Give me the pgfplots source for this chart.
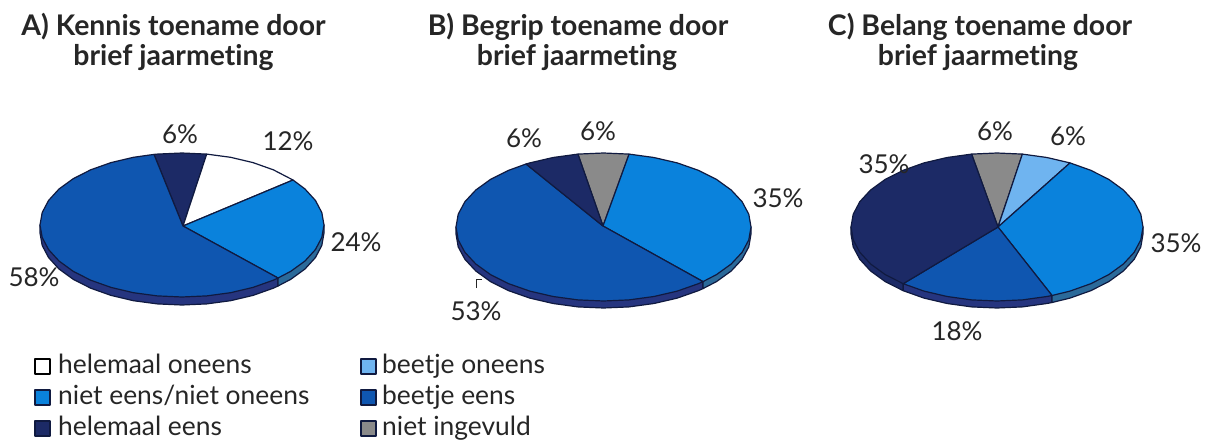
\documentclass[border=0pt]{standalone}
\usepackage{pgfplots}
\usepackage{fontspec}
\setmainfont[Ligatures=NoCommon]{Lato}
\pgfplotsset{compat=1.18}
\definecolor{cLight}{HTML}{6FB4F0}
\definecolor{cBlue}{HTML}{0A82DC}
\definecolor{cDark}{HTML}{0F56B0}
\definecolor{cNavy}{HTML}{1C2A66}
\definecolor{cGrey}{HTML}{8A8A8A}
\definecolor{cEdge}{HTML}{101A40}
\definecolor{cShadow}{HTML}{26357F}
\definecolor{cTeal}{HTML}{2B6A9A}
\definecolor{cText}{HTML}{262626}
\newcommand{\pct}[3]{\node[anchor=center,text=cText,font=\fontsize{26}{26}\selectfont,inner sep=0pt] at (axis cs:#1,#2) {#3};}
\newcommand{\ttl}[3]{\node[anchor=center,text=cText,font=\fontsize{28.4}{28.4}\selectfont\bfseries,inner sep=0pt] at (axis cs:#1,#2) {#3};}
\newcommand{\lgd}[3]{\node[anchor=west,text=cText,font=\fontsize{26.4}{26.4}\selectfont,inner sep=0pt] at (axis cs:#1,#2) {\strut #3};}
\begin{document}
\begin{tikzpicture}[x=1pt,y=1pt]
\path[use as bounding box] (0pt,0pt) rectangle (1218pt,444pt);
\begin{axis}[
  at={(0pt,0pt)}, anchor=south west,
  scale only axis, width=1218pt, height=444pt,
  xmin=0, xmax=1218, ymin=0, ymax=444, y dir=reverse,
  axis lines=none, clip=false, no markers,
  every axis plot/.append style={line width=1.2pt, draw=cEdge, line join=round}
]
% --- Pie A
\addplot[fill=cShadow] coordinates {(40,225)(40,233)(42.2,245.5)(48.6,257.6)(59,269)(73.2,279.3)(90.7,288.2)(111,295.4)(133.4,300.7)(157.3,303.9)(182,305)(206.7,303.9)(230.6,300.7)(253,295.4)(273.3,288.2)(278,286)(278,278)} --cycle;
\addplot[fill=cTeal] coordinates {(278,278)(278,286)(290.8,279.3)(305,269)(315.4,257.6)(321.8,245.5)(324,233)(324,225)} --cycle;
\addplot[fill=cNavy] coordinates {(183,226)(154,154.4)(157.3,154.1)(182,153)(206.7,154.1)} --cycle;
\addplot[fill=white] coordinates {(183,226)(206.7,154.1)(230.6,157.3)(253,162.6)(273.3,169.8)(293,180)} --cycle;
\addplot[fill=cBlue] coordinates {(183,226)(293,180)(305,189)(315.4,200.4)(321.8,212.5)(324,225)(321.8,237.5)(315.4,249.6)(305,261)(290.8,271.3)(278,278)} --cycle;
\addplot[fill=cDark] coordinates {(183,226)(278,278)(273.3,280.2)(253,287.4)(230.6,292.7)(206.7,295.9)(182,297)(157.3,295.9)(133.4,292.7)(111,287.4)(90.7,280.2)(73.2,271.3)(59,261)(48.6,249.6)(42.2,237.5)(40,225)(42.2,212.5)(48.6,200.4)(59,189)(73.2,178.7)(90.7,169.8)(111,162.6)(133.4,157.3)(154,154.4)} --cycle;
% --- Pie B
\addplot[fill=cShadow] coordinates {(456,227)(456,234)(458.2,246.9)(464.9,259.3)(475.8,271)(490.5,281.6)(508.7,290.7)(529.8,298.1)(553.1,303.5)(577.9,306.9)(603.5,308)(629.1,306.9)(653.9,303.5)(677.3,298.1)(698.3,290.7)(703,288.6)(703,281.6)} --cycle;
\addplot[fill=cTeal] coordinates {(703,281.6)(703,288.6)(716.5,281.6)(731.2,271)(742.1,259.3)(748.8,246.9)(751,234)(751,227)} --cycle;
\addplot[fill=cGrey] coordinates {(603,226)(577.9,154.1)(603.5,153)(629.1,154.1)} --cycle;
\addplot[fill=cBlue] coordinates {(603,226)(629.1,154.1)(653.9,157.5)(677.3,162.9)(698.3,170.3)(716.5,179.4)(731.2,190)(742.1,201.7)(748.8,214.2)(751,227)(748.8,239.9)(742.1,252.3)(731.2,264)(716.5,274.6)(703,281.6)} --cycle;
\addplot[fill=cDark] coordinates {(603,226)(703,281.6)(698.3,283.7)(677.3,291.1)(653.9,296.5)(629.1,299.9)(603.5,301)(577.9,299.9)(553.1,296.5)(529.8,291.1)(508.7,283.7)(490.5,274.6)(475.8,264)(464.9,252.3)(458.2,239.9)(456,227)(458.2,214.2)(464.9,201.7)(475.8,190)(490.5,179.4)(508.7,170.3)(526,164)} --cycle;
\addplot[fill=cNavy] coordinates {(603,226)(526,164)(529.8,162.9)(553.1,157.5)(577.9,154.1)} --cycle;
\addplot[draw=cText, line width=1pt] coordinates {(476,288)(476,279)(482,279)};
% --- Pie C
\addplot[fill=cNavy] coordinates {(851,227)(851,234)(853.2,246.9)(859.8,259.3)(870.6,271)(885.2,281.6)(903.2,290.7)(903.2,283.7)} --cycle;
\addplot[fill=cShadow] coordinates {(903.2,283.7)(903.2,290.7)(924,298.1)(947.1,303.5)(971.6,306.9)(997,308)(1022.4,306.9)(1046.9,303.5)(1052,302.5)(1052,295.5)} --cycle;
\addplot[fill=cTeal] coordinates {(1052,295.5)(1052,302.5)(1070,298.1)(1090.8,290.7)(1108.8,281.6)(1123.4,271)(1134.2,259.3)(1140.8,246.9)(1143,234)(1143,227)} --cycle;
\addplot[fill=cGrey] coordinates {(998,227)(971.6,154.1)(997,153)(1022.4,154.1)} --cycle;
\addplot[fill=cLight] coordinates {(998,227)(1022.4,154.1)(1046.9,157.5)(1070,162.9)} --cycle;
\addplot[fill=cBlue] coordinates {(998,227)(1070,162.9)(1090.8,170.3)(1108.8,179.4)(1123.4,190)(1134.2,201.7)(1140.8,214.2)(1143,227)(1140.8,239.9)(1134.2,252.3)(1123.4,264)(1108.8,274.6)(1090.8,283.7)(1070,291.1)(1052,295.5)} --cycle;
\addplot[fill=cDark] coordinates {(998,227)(1052,295.5)(1046.9,296.5)(1022.4,299.9)(997,301)(971.6,299.9)(947.1,296.5)(924,291.1)(903.2,283.7)} --cycle;
\addplot[fill=cNavy] coordinates {(998,227)(903.2,283.7)(885.2,274.6)(870.6,264)(859.8,252.3)(853.2,239.9)(851,227)(853.2,214.2)(859.8,201.7)(870.6,190)(885.2,179.4)(903.2,170.3)(924,162.9)(947.1,157.5)(971.6,154.1)} --cycle;
% --- Legend swatches
\addplot[fill=white, draw=black] coordinates {(35,359)(50,359)(50,374)(35,374)} --cycle;
\addplot[fill=cBlue] coordinates {(35,390)(50,390)(50,405)(35,405)} --cycle;
\addplot[fill=cNavy] coordinates {(35,421)(50,421)(50,436)(35,436)} --cycle;
\addplot[fill=cLight] coordinates {(361,359)(376,359)(376,374)(361,374)} --cycle;
\addplot[fill=cDark] coordinates {(361,390)(376,390)(376,405)(361,405)} --cycle;
\addplot[fill=cGrey] coordinates {(361,421)(376,421)(376,436)(361,436)} --cycle;
% --- Texts
\ttl{173.5}{27}{A) Kennis toename door}
\ttl{173.5}{58}{brief jaarmeting}
\ttl{578}{27}{B) Begrip toename door}
\ttl{577}{58}{brief jaarmeting}
\ttl{980}{27}{C) Belang toename door}
\ttl{978}{58}{brief jaarmeting}
\pct{180}{134}{6\%}
\pct{288}{141}{12\%}
\pct{356}{242}{24\%}
\pct{34}{277}{58\%}
\pct{524}{138}{6\%}
\pct{598}{131}{6\%}
\pct{778}{198}{35\%}
\pct{476}{311}{53\%}
\pct{995}{131}{6\%}
\pct{1068}{136}{6\%}
\pct{884}{164}{35\%}
\pct{1176}{243}{35\%}
\pct{957}{331}{18\%}
\lgd{58}{368}{helemaal oneens}
\lgd{58}{399}{niet eens/niet oneens}
\lgd{58}{430}{helemaal eens}
\lgd{382}{368}{beetje oneens}
\lgd{382}{399}{beetje eens}
\lgd{382}{430}{niet ingevuld}
\end{axis}
\end{tikzpicture}
\end{document}
